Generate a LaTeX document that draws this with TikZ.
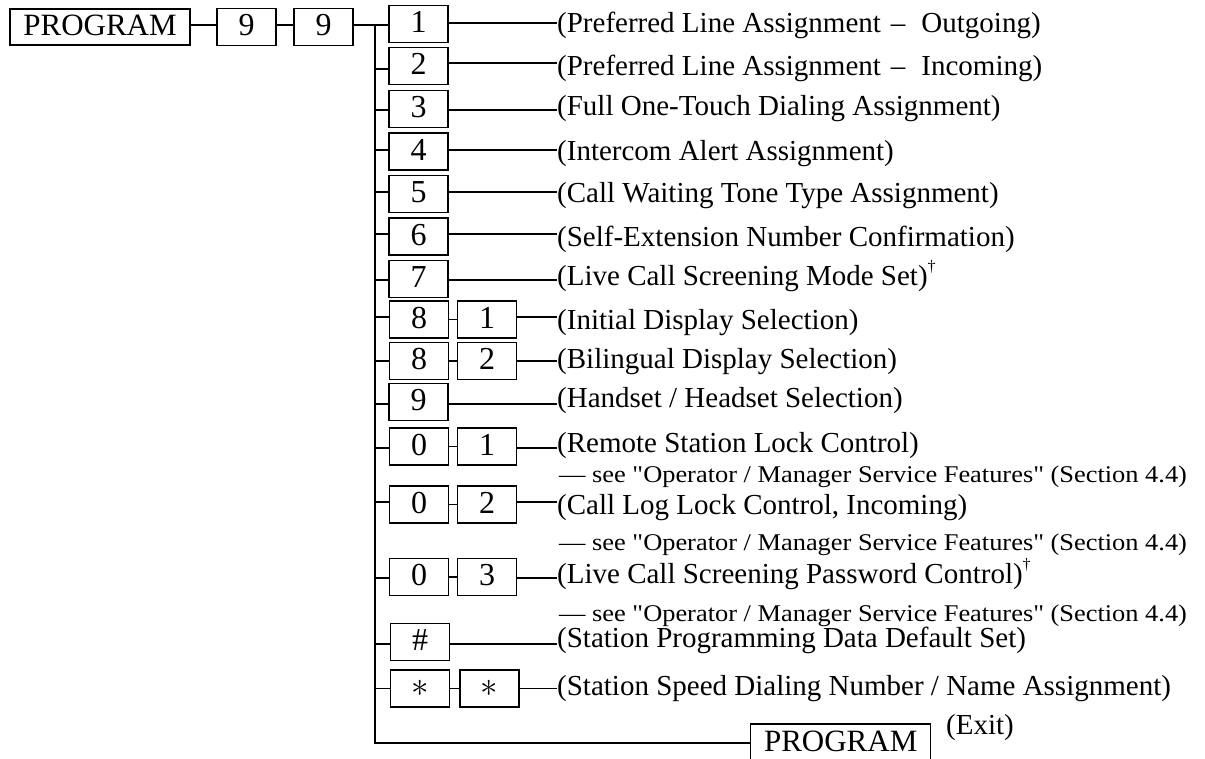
\documentclass[tikz,border=0pt]{standalone}
\usepackage{fontspec}
\setmainfont{Liberation Serif}
\newfontfamily\seefam{Liberation Serif}[FakeStretch=1.1]
\newcommand{\keyfont}{\fontsize{32}{36}\selectfont}
\newcommand{\progfont}{\fontsize{31}{36}\selectfont}
\newcommand{\lblfont}{\fontsize{29}{35}\selectfont}
\newcommand{\seefont}{\seefam\fontsize{24}{28}\selectfont}
\newcommand{\dagmark}{\raisebox{0.45em}{\fontsize{16}{18}\selectfont †}}
\tikzset{
  keybox/.style={draw, line width=1.4pt, minimum width=59pt, minimum height=37pt, inner sep=0pt, text height=22pt, text depth=5pt, font=\keyfont},
  starbox/.style={draw, line width=1.4pt, minimum width=59pt, minimum height=37pt, inner sep=0pt, font=\keyfont},
  progbox/.style={draw, line width=1.4pt, minimum width=180pt, minimum height=36pt, inner sep=0pt, text height=22pt, text depth=5pt, font=\progfont},
  lbl/.style={anchor=base west, inner sep=0pt, font=\lblfont},
  seelbl/.style={anchor=base west, inner sep=0pt, font=\seefont},
  conn/.style={line width=1.4pt}
}
\begin{document}
\begin{tikzpicture}[x=1pt,y=-1pt]
\useasboundingbox (0,0) rectangle (1205,758);
\clip (0,0) rectangle (1205,758);
% top row
\node[progbox] (prog) at (100,27) {PROGRAM};
\node[keybox] (n9a) at (246.5,27) {9};
\node[keybox] (n9b) at (323.5,27) {9};
\coordinate (trtop) at (375,25);
\coordinate (trbot) at (375,743);
% first column keys
\node[keybox] (k1) at (418.5,24) {1};
\node[keybox] (k2) at (418.5,66) {2};
\node[keybox] (k3) at (418.5,109) {3};
\node[keybox] (k4) at (418.5,151.5) {4};
\node[keybox] (k5) at (418.5,194) {5};
\node[keybox] (k6) at (418.5,236.5) {6};
\node[keybox] (k7) at (418.5,279) {7};
\node[keybox] (k81) at (419,319.5) {8};
\node[keybox] (k82) at (419,361) {8};
\node[keybox] (k9) at (418.5,402) {9};
\node[keybox] (k01) at (419,446.5) {0};
\node[keybox] (k02) at (419,504.5) {0};
\node[keybox] (k03) at (419,577) {0};
\node[keybox] (khash) at (420,642) {\#};
\node[starbox] (kst) at (420,688.5) {\scalebox{1.4}{$\ast$}};
% second column keys
\node[keybox] (s81) at (487,319.5) {1};
\node[keybox] (s82) at (487,361) {2};
\node[keybox] (s01) at (487,446.5) {1};
\node[keybox] (s02) at (487,504.5) {2};
\node[keybox] (s03) at (487,577) {3};
\node[starbox] (sst) at (489.5,688.5) {\scalebox{1.4}{$\ast$}};
% exit
\node[progbox, anchor=west, minimum height=38pt] (exitbox) at (750,743) {PROGRAM};
\node[lbl] (exitlbl) at (946,734) {(Exit)};
% labels
\node[lbl] (l1) at (557,32) {(Preferred Line Assignment\hspace{10pt}–\hspace{16pt}Outgoing)};
\node[lbl] (l2) at (557,75) {(Preferred Line Assignment\hspace{10pt}–\hspace{16pt}Incoming)};
\node[lbl] (l3) at (557,115) {(Full One-Touch Dialing Assignment)};
\node[lbl] (l4) at (557,160) {(Intercom Alert Assignment)};
\node[lbl] (l5) at (557,202) {(Call Waiting Tone Type Assignment)};
\node[lbl] (l6) at (557,246) {(Self-Extension Number Confirmation)};
\node[lbl] (l7) at (557,285) {(Live Call Screening Mode Set)\dagmark};
\node[lbl] (l81) at (557,329) {(Initial Display Selection)};
\node[lbl] (l82) at (557,368) {(Bilingual Display Selection)};
\node[lbl] (l9) at (557,407) {(Handset / Headset Selection)};
\node[lbl] (l01) at (557,452) {(Remote Station Lock Control)};
\node[seelbl] (see1) at (559,482) {— see "Operator / Manager Service Features" (Section 4.4)};
\node[lbl] (l02) at (557,514) {(Call Log Lock Control, Incoming)};
\node[seelbl] (see2) at (559,550) {— see "Operator / Manager Service Features" (Section 4.4)};
\node[lbl] (l03) at (557,583) {(Live Call Screening Password Control)\dagmark};
\node[seelbl] (see3) at (559,621) {— see "Operator / Manager Service Features" (Section 4.4)};
\node[lbl] (lhash) at (557,647) {(Station Programming Data Default Set)};
\node[lbl] (lst) at (557,695) {(Station Speed Dialing Number / Name Assignment)};
% connectors
\draw[conn] (prog.east |- trtop) -- (n9a.west |- trtop);
\draw[conn] (n9a.east |- trtop) -- (n9b.west |- trtop);
\draw[conn] (n9b.east |- trtop) -- (k1.west |- trtop);
\draw[conn] (trtop) -- (trbot) -- (exitbox.west);
\draw[conn] (k2.west -| trtop) ++(0,3) -- ++(13.5,0);
\foreach \k/\dy in {k3/-1,k4/1.5,k5/2,k6/2.5,k7/-1,k81/2.5,k82/0,k9/-2,k01/-1.5,k02/2.5,k03/-1,khash/-2,kst/0}
  \draw[conn] ([yshift=\dy pt]\k.west -| trtop) -- ([yshift=\dy pt]\k.west);
\draw[conn] (k81.east) -- (s81.west);
\draw[conn] (k82.east) -- (s82.west);
\draw[conn] (k01.east) -- (s01.west);
\draw[conn] (k02.east) -- (s02.west);
\draw[conn] (k03.east) -- (s03.west);
\draw[conn] (kst.east) -- (sst.west);
\foreach \k/\l/\dy in {k1/l1/1,k2/l2/3,k3/l3/-1,k4/l4/1.5,k5/l5/2,k6/l6/2.5,k7/l7/-1,k9/l9/-2,khash/lhash/-2,s81/l81/2.5,s82/l82/0,s01/l01/-1.5,s02/l02/2.5,s03/l03/-1,sst/lst/0}
  \draw[conn] ([yshift=\dy pt]\k.east) -- ([yshift=\dy pt]\k.east -| \l.west);
\end{tikzpicture}
\end{document}
